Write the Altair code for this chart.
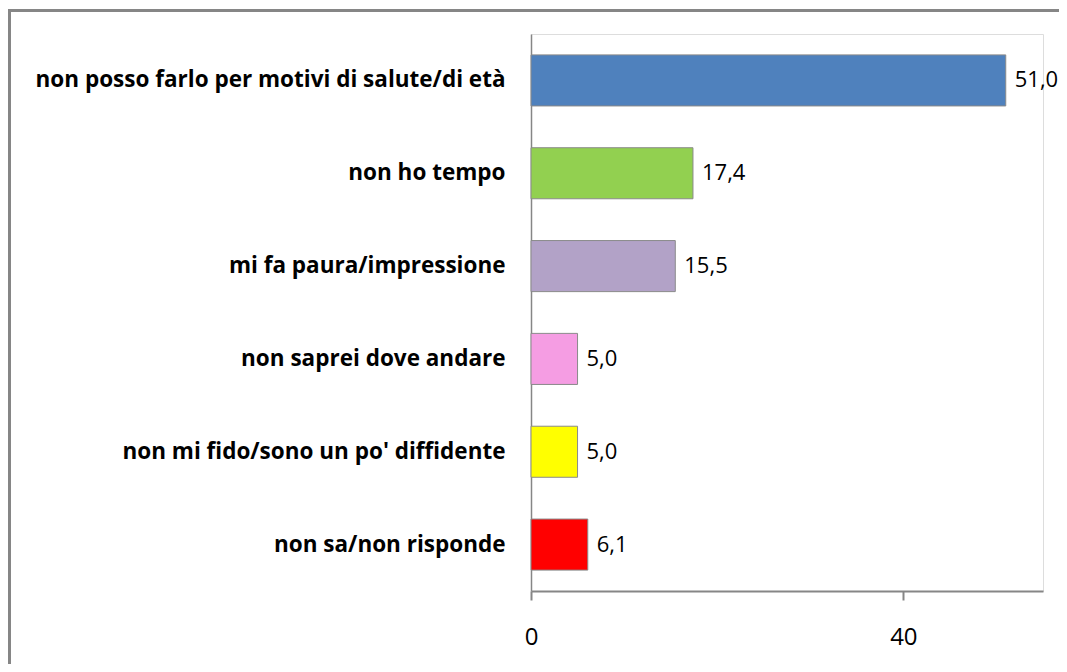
import altair as alt
import pandas as pd

categories = [
    "non posso farlo per motivi di salute/di età",
    "non ho tempo",
    "mi fa paura/impressione",
    "non saprei dove andare",
    "non mi fido/sono un po' diffidente",
    "non sa/non risponde",
]
values = [51.0, 17.4, 15.5, 5.0, 5.0, 6.1]
colors = ["#4F81BD", "#92D050", "#B2A2C7", "#F59DE3", "#FFFF00", "#FF0000"]
x_ticks = [0, 40]
x_max = 55

df = pd.DataFrame({
    "cat": categories,
    "val": values,
    "label": [f"{v:.1f}".replace(".", ",") for v in values],
})

W, H = 512, 557
PL, PT, PR, PB = 523, 26, 16, 73

y_enc = alt.Y(
    "cat:N", sort=categories, title=None,
    scale=alt.Scale(paddingInner=0.45, paddingOuter=0.225),
    axis=alt.Axis(ticks=False, domainColor="#868686", domainWidth=1.5,
                  labelFont="Open Sans", labelFontWeight="bold", labelFontSize=22.5,
                  labelColor="#000000", labelPadding=26, labelLimit=520),
)
x_enc = alt.X(
    "val:Q", title=None,
    scale=alt.Scale(domain=[0, x_max], nice=False),
    axis=alt.Axis(values=x_ticks, grid=False, domainColor="#868686", domainWidth=2,
                  tickColor="#868686", tickWidth=2, tickSize=9,
                  labelFont="Open Sans", labelFontSize=24, labelColor="#000000",
                  labelPadding=25, labelFlush=False),
)

bars = alt.Chart(df).mark_bar(stroke="#8a8a8a", strokeWidth=1).encode(
    y=y_enc, x=x_enc,
    color=alt.Color("cat:N", scale=alt.Scale(domain=categories, range=colors), legend=None),
)
texts = alt.Chart(df).mark_text(
    align="left", baseline="middle", dx=9, font="Open Sans", fontSize=22, color="#000000"
).encode(y=alt.Y("cat:N", sort=categories), x="val:Q", text="label:N")

frame_df = pd.DataFrame({"a": [0]})
vline = alt.Chart(frame_df).mark_rule(color="#868686", strokeWidth=3).encode(
    x=alt.value(-PL + 1.5), y=alt.value(-PT + 1), y2=alt.value(H + PB))
hline = alt.Chart(frame_df).mark_rule(color="#868686", strokeWidth=3).encode(
    x=alt.value(-PL), x2=alt.value(W + PR), y=alt.value(-PT + 2.5))

chart = alt.layer(bars, texts, vline, hline).properties(
    width=W, height=H,
    autosize=alt.AutoSizeParams(type="none"),
    padding={"left": PL, "top": PT, "right": PR, "bottom": PB},
).configure_view(stroke=None).configure(background="white")

chart.save("out.html", embed_options={"renderer": "svg", "actions": False})
